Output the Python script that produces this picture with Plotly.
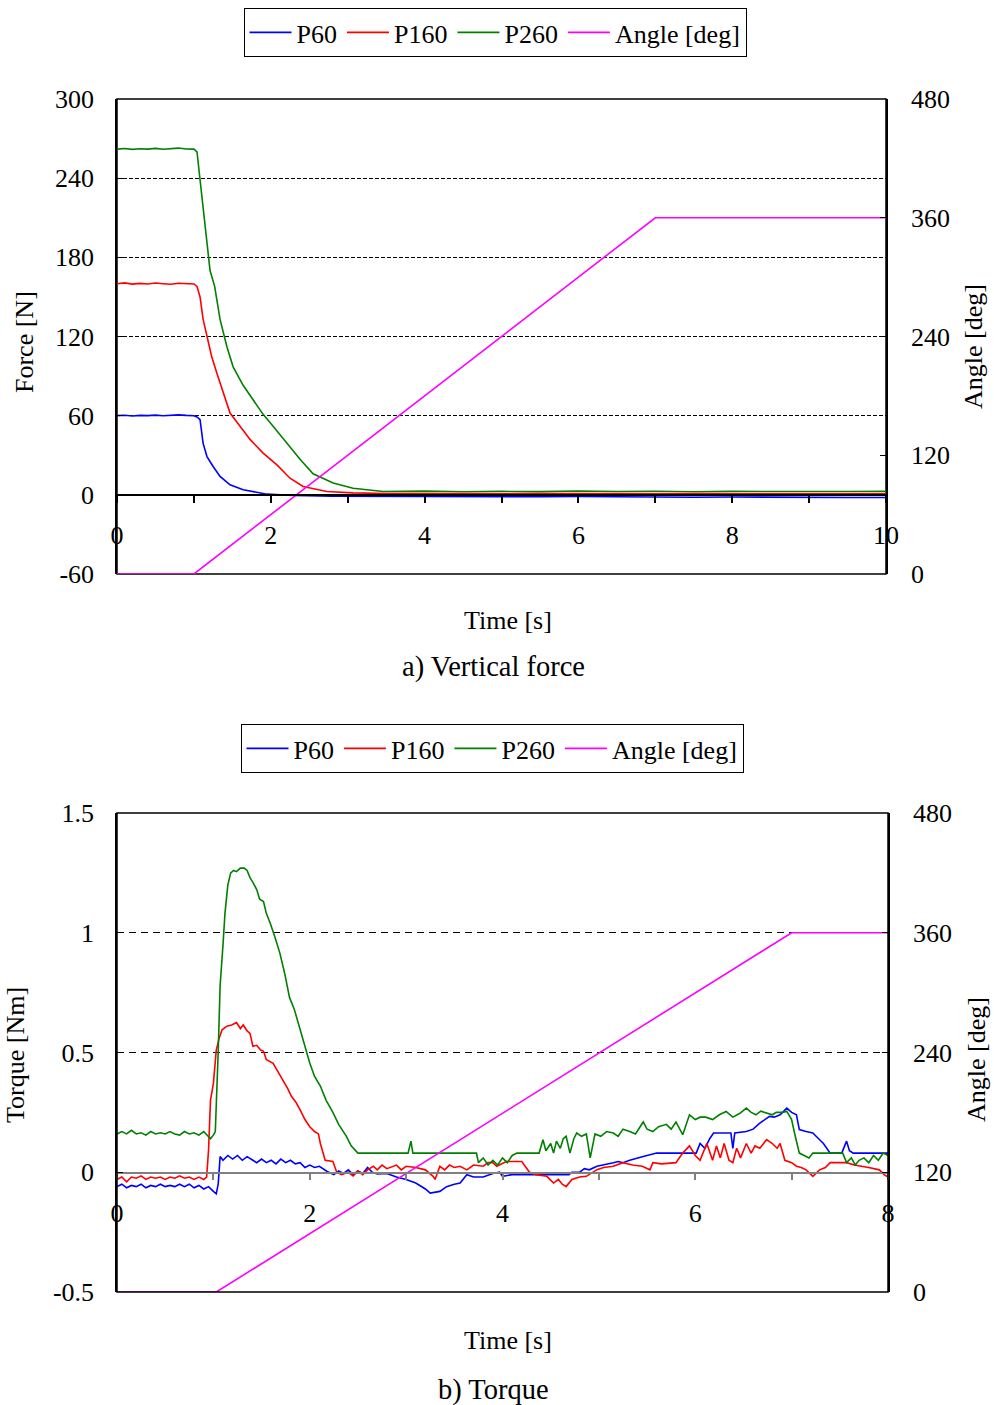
import plotly.graph_objects as go

# ---------------- a) Vertical force ----------------
t_p60_a = [0, 0.1, 0.2, 0.3, 0.4, 0.5, 0.6, 0.7, 0.8, 0.9, 1.0, 1.04, 1.08, 1.12, 1.17, 1.25, 1.34, 1.47,
           1.64, 1.95, 2.3, 2.8, 3.5, 4.0, 4.5, 5.0, 5.5, 6.0, 6.5, 7.0, 7.5, 8.0, 8.5, 9.0, 9.5, 10.0]
f_p60_a = [60, 60.3, 59.8, 60.2, 60, 60.4, 59.9, 60.1, 60.6, 60.2, 60, 59, 57, 39, 29, 21.5, 14, 7.6,
           3.8, 0.5, -0.5, -1.0, -1.2, -1.1, -1.4, -1.2, -1.5, -1.3, -1.6, -1.5, -1.8, -1.6, -1.9, -1.8, -2.0, -2.0]

t_p160_a = [0, 0.1, 0.2, 0.3, 0.4, 0.5, 0.6, 0.7, 0.8, 0.9, 1.0, 1.04, 1.08, 1.12, 1.17, 1.23, 1.30, 1.38,
            1.47, 1.60, 1.73, 1.90, 2.08, 2.25, 2.42, 2.73, 3.07, 3.5, 4.0, 4.5, 5.0, 5.5, 6.0, 6.5, 7.0,
            7.5, 8.0, 8.5, 9.0, 9.5, 10.0]
f_p160_a = [160, 160.6, 159.7, 160.3, 159.8, 160.5, 160, 159.6, 160.4, 160.1, 159.8, 158, 150, 133, 120, 105, 92, 77,
            62, 52, 42, 31.6, 22.7, 12.6, 6.3, 2.5, 1.5, 1.0, 0.8, 1.1, 0.7, 0.9, 0.8, 1.0, 0.6,
            0.8, 0.9, 0.7, 0.8, 0.6, 0.7]

t_p260_a = [0, 0.1, 0.2, 0.3, 0.4, 0.5, 0.6, 0.7, 0.8, 0.9, 1.0, 1.04, 1.08, 1.12, 1.17, 1.21, 1.27, 1.34,
            1.43, 1.51, 1.64, 1.77, 1.90, 2.03, 2.21, 2.38, 2.55, 2.81, 3.07, 3.46, 4.0, 4.5, 5.0, 5.5,
            6.0, 6.5, 7.0, 7.5, 8.0, 8.5, 9.0, 9.5, 10.0]
f_p260_a = [262, 262.5, 261.8, 262.3, 262, 262.6, 261.9, 262.2, 262.8, 262.1, 262, 260, 240, 218, 190, 170, 158, 133,
            112, 97, 83, 72, 61, 52, 39, 27, 16, 9, 5, 2.5, 2.8, 2.3, 2.6, 2.4,
            2.9, 2.5, 2.7, 2.3, 2.6, 2.4, 2.7, 2.5, 2.6]

t_angle_a = [0, 1.0, 7.0, 10.0]
angle_a = [0, 0, 360, 360]

force_ticks = [-60, 0, 60, 120, 180, 240, 300]
force_ticktext = ["-60", "0", "60", "120", "180", "240", "300"]
angle_ticks = [0, 120, 240, 360, 480]
angle_ticktext = ["0", "120", "240", "360", "480"]

# ---------------- b) Torque ----------------
t_p60_b = [0, 0.05, 0.1, 0.15, 0.2, 0.25, 0.3, 0.35, 0.4, 0.45, 0.5, 0.55, 0.6, 0.65, 0.7, 0.75, 0.8, 0.85,
           0.9, 0.95, 1.0, 1.03, 1.05, 1.07, 1.1, 1.15, 1.2, 1.25, 1.3, 1.35, 1.41, 1.45, 1.5, 1.55, 1.6,
           1.65, 1.7, 1.75, 1.8, 1.85, 1.9, 1.95, 2.0, 2.05, 2.1, 2.15, 2.18, 2.25, 2.3, 2.35, 2.4, 2.45,
           2.5, 2.55, 2.6, 2.65, 2.7, 2.8, 2.9, 3.0, 3.1, 3.2, 3.25, 3.35, 3.42, 3.5, 3.56, 3.63, 3.7, 3.8,
           3.9, 3.97, 4.0, 4.1, 4.69, 4.72, 4.8, 4.85, 4.9, 4.98, 5.05, 5.1, 5.15, 5.2, 5.25, 5.32, 5.4,
           5.46, 5.6, 6.01, 6.05, 6.1, 6.15, 6.19, 6.3, 6.37, 6.39, 6.41, 6.53, 6.6, 6.67, 6.72, 6.77, 6.82,
           6.88, 6.95, 7.0, 7.05, 7.08, 7.15, 7.22, 7.28, 7.33, 7.4, 7.52, 7.57, 7.6, 7.64, 8.0]
tq_p60_b = [-0.06, -0.05, -0.065, -0.055, -0.06, -0.05, -0.065, -0.055, -0.06, -0.05, -0.06, -0.055, -0.06, -0.05,
            -0.06, -0.05, -0.065, -0.055, -0.07, -0.06, -0.08, -0.09, -0.05, 0.066, 0.05, 0.07, 0.055, 0.07,
            0.05, 0.065, 0.05, 0.04, 0.055, 0.04, 0.05, 0.035, 0.055, 0.04, 0.05, 0.035, 0.04, 0.02, 0.03,
            0.02, 0.025, 0.01, 0.003, -0.01, 0.005, -0.005, 0.01, -0.01, 0.005, -0.005, 0.02, 0.0, -0.007,
            -0.005, -0.02, -0.03, -0.045, -0.07, -0.087, -0.08, -0.06, -0.05, -0.045, -0.01, -0.02, -0.02,
            -0.005, 0.0, -0.017, -0.01, -0.01, 0.0, 0.0, 0.015, 0.01, 0.025, 0.03, 0.035, 0.04, 0.045, 0.04,
            0.05, 0.06, 0.066, 0.08, 0.08, 0.12, 0.1, 0.14, 0.164, 0.164, 0.164, 0.1, 0.164, 0.17, 0.18,
            0.205, 0.22, 0.233, 0.23, 0.24, 0.268, 0.25, 0.24, 0.178, 0.17, 0.164, 0.14, 0.12, 0.08, 0.08,
            0.13, 0.09, 0.08, 0.08]

t_p160_b = [0, 0.05, 0.1, 0.15, 0.2, 0.25, 0.3, 0.35, 0.4, 0.45, 0.5, 0.55, 0.6, 0.65, 0.7, 0.75, 0.8, 0.85,
            0.9, 0.93, 0.95, 0.97, 1.0, 1.03, 1.06, 1.09, 1.14, 1.19, 1.24, 1.28, 1.31, 1.35, 1.38, 1.41,
            1.45, 1.49, 1.52, 1.55, 1.62, 1.67, 1.72, 1.77, 1.81, 1.86, 1.9, 1.95, 2.0, 2.05, 2.09, 2.11,
            2.16, 2.24, 2.28, 2.33, 2.4, 2.45, 2.5, 2.55, 2.6, 2.66, 2.7, 2.75, 2.8, 2.83, 2.9, 2.95, 3.0,
            3.1, 3.2, 3.28, 3.3, 3.35, 3.4, 3.45, 3.5, 3.56, 3.63, 3.7, 3.8, 3.85, 3.9, 3.94, 4.04, 4.2,
            4.28, 4.35, 4.46, 4.53, 4.58, 4.62, 4.66, 4.72, 4.8, 4.87, 4.98, 5.05, 5.15, 5.25, 5.35, 5.45,
            5.53, 5.56, 5.65, 5.8, 5.87, 5.94, 6.0, 6.05, 6.12, 6.18, 6.22, 6.26, 6.3, 6.35, 6.39, 6.43,
            6.47, 6.53, 6.58, 6.62, 6.67, 6.74, 6.8, 6.85, 6.88, 6.93, 7.0, 7.05, 7.1, 7.15, 7.22, 7.29,
            7.35, 7.4, 7.57, 7.65, 7.74, 7.8, 7.91, 7.96, 8.0]
tq_p160_b = [-0.03, -0.02, -0.04, -0.02, -0.025, -0.015, -0.03, -0.02, -0.025, -0.02, -0.03, -0.02, -0.025,
             -0.015, -0.025, -0.02, -0.03, -0.02, -0.03, -0.02, 0.094, 0.3, 0.37, 0.51, 0.56, 0.595, 0.61,
             0.615, 0.625, 0.6, 0.615, 0.59, 0.58, 0.526, 0.53, 0.51, 0.505, 0.47, 0.455, 0.42, 0.387, 0.35,
             0.317, 0.29, 0.26, 0.22, 0.19, 0.17, 0.16, 0.12, 0.05, 0.045, 0.0, -0.01, 0.0, -0.015, 0.005,
             -0.01, 0.01, 0.025, 0.01, 0.03, 0.015, 0.02, 0.03, 0.01, 0.025, 0.02, 0.01, -0.017, -0.03,
             0.025, 0.01, 0.03, 0.02, 0.025, 0.01, 0.03, 0.025, 0.04, 0.04, 0.025, 0.045, 0.045, 0.0, -0.01,
             -0.017, -0.045, -0.03, -0.05, -0.06, -0.03, -0.02, -0.017, 0.011, 0.02, 0.025, 0.04, 0.03,
             0.025, 0.01, 0.04, 0.035, 0.04, 0.08, 0.11, 0.07, 0.05, 0.12, 0.05, 0.11, 0.06, 0.12, 0.05,
             0.04, 0.1, 0.06, 0.12, 0.08, 0.11, 0.1, 0.136, 0.12, 0.1, 0.12, 0.05, 0.04, 0.025, 0.02, 0.01,
             -0.017, 0.01, 0.02, 0.04, 0.04, 0.03, 0.025, 0.02, 0.01, -0.01, -0.02]

t_p260_b = [0, 0.05, 0.1, 0.15, 0.2, 0.25, 0.3, 0.35, 0.4, 0.45, 0.5, 0.55, 0.6, 0.65, 0.7, 0.75, 0.8, 0.85,
            0.9, 0.95, 0.97, 1.0, 1.02, 1.05, 1.07, 1.1, 1.12, 1.15, 1.18, 1.21, 1.24, 1.28, 1.32, 1.35,
            1.38, 1.41, 1.45, 1.48, 1.52, 1.55, 1.59, 1.64, 1.69, 1.74, 1.79, 1.84, 1.9, 1.95, 2.0, 2.05,
            2.11, 2.17, 2.24, 2.3, 2.38, 2.43, 2.47, 2.5, 3.02, 3.05, 3.07, 3.73, 3.75, 3.8, 3.85, 3.9,
            3.95, 4.0, 4.05, 4.1, 4.15, 4.38, 4.42, 4.45, 4.5, 4.53, 4.56, 4.6, 4.63, 4.66, 4.7, 4.74,
            4.77, 4.82, 4.87, 4.91, 4.96, 5.02, 5.08, 5.15, 5.2, 5.25, 5.32, 5.38, 5.46, 5.5, 5.56, 5.62,
            5.7, 5.75, 5.8, 5.87, 5.94, 6.0, 6.05, 6.11, 6.18, 6.25, 6.32, 6.39, 6.46, 6.53, 6.58, 6.63,
            6.68, 6.73, 6.8, 6.84, 6.9, 6.95, 7.0, 7.03, 7.08, 7.13, 7.18, 7.22, 7.53, 7.57, 7.62, 7.66,
            7.7, 7.75, 7.8, 7.85, 7.9, 7.95, 8.0]
tq_p260_b = [0.16, 0.17, 0.16, 0.175, 0.16, 0.165, 0.155, 0.17, 0.16, 0.165, 0.16, 0.17, 0.16, 0.155, 0.17,
             0.16, 0.165, 0.155, 0.17, 0.15, 0.14, 0.155, 0.17, 0.5, 0.78, 0.95, 1.08, 1.2, 1.25, 1.26,
             1.255, 1.27, 1.27, 1.26, 1.23, 1.21, 1.18, 1.14, 1.13, 1.08, 1.04, 0.98, 0.915, 0.83, 0.73,
             0.68, 0.595, 0.52, 0.456, 0.4, 0.36, 0.3, 0.25, 0.2, 0.15, 0.11, 0.09, 0.08, 0.08, 0.13, 0.08,
             0.08, 0.04, 0.06, 0.03, 0.05, 0.03, 0.06, 0.04, 0.07, 0.08, 0.08, 0.136, 0.09, 0.12, 0.08,
             0.13, 0.1, 0.14, 0.15, 0.08, 0.14, 0.164, 0.15, 0.16, 0.06, 0.16, 0.15, 0.17, 0.164, 0.15,
             0.18, 0.17, 0.16, 0.21, 0.18, 0.17, 0.19, 0.2, 0.18, 0.21, 0.157, 0.24, 0.22, 0.23, 0.23, 0.22,
             0.24, 0.254, 0.23, 0.245, 0.268, 0.25, 0.24, 0.255, 0.25, 0.24, 0.25, 0.25, 0.254, 0.22, 0.164,
             0.08, 0.07, 0.06, 0.08, 0.08, 0.04, 0.06, 0.03, 0.05, 0.06, 0.04, 0.07, 0.05, 0.08, 0.07]

t_angle_b = [0, 1.03, 7.0, 8.0]
angle_b = [0, 0, 360, 360]

torque_ticks = [-0.5, 0, 0.5, 1, 1.5]
torque_ticktext = ["-0.5", "0", "0.5", "1", "1.5"]

series_names = ["P60", "P160", "P260", "Angle [deg]"]
colors = ["#0000ff", "#ff0000", "#008000", "#ff00ff"]

FONT = "Liberation Serif, Times New Roman, serif"
FS = 26
W, H = 994, 1405


def fx(px):
    return px / W


def fy(py):
    return 1 - py / H


fig = go.Figure()

data_a = [(t_p60_a, f_p60_a), (t_p160_a, f_p160_a), (t_p260_a, f_p260_a)]
for (tt, vv), name, col in zip(data_a, series_names[:3], colors[:3]):
    fig.add_trace(go.Scatter(x=tt, y=vv, name=name, mode="lines", line=dict(color=col, width=1.6),
                             xaxis="x", yaxis="y", legend="legend"))
fig.add_trace(go.Scatter(x=t_angle_a, y=angle_a, name=series_names[3], mode="lines",
                         line=dict(color=colors[3], width=1.6), xaxis="x", yaxis="y2", legend="legend"))

data_b = [(t_p60_b, tq_p60_b), (t_p160_b, tq_p160_b), (t_p260_b, tq_p260_b)]
for (tt, vv), name, col in zip(data_b, series_names[:3], colors[:3]):
    fig.add_trace(go.Scatter(x=tt, y=vv, name=name, mode="lines", line=dict(color=col, width=1.6),
                             xaxis="x2", yaxis="y3", legend="legend2"))
fig.add_trace(go.Scatter(x=t_angle_b, y=angle_b, name=series_names[3], mode="lines",
                         line=dict(color=colors[3], width=1.6), xaxis="x2", yaxis="y4", legend="legend2"))

tickfont = dict(family=FONT, size=FS, color="black")

xa_dom = [fx(117), fx(886)]
xb_dom = [fx(117), fx(888)]
ya_dom = [fy(574), fy(99)]
yb_dom = [fy(1292), fy(813)]

common_x = dict(showgrid=False, zeroline=False, showline=True, linewidth=1.5, ticks="outside",
                ticklen=7, tickwidth=1.5, tickfont=tickfont, anchor="free", ticklabelstandoff=10,
                automargin=False)
common_y = dict(zeroline=False, showline=True, linecolor="black", linewidth=1.5, ticks="inside",
                ticklen=6, tickwidth=1, tickcolor="black", tickfont=tickfont, automargin=False,
                tickmode="array")

legend_common = dict(orientation="h", xanchor="center", yanchor="top", itemwidth=42,
                     bordercolor="black", borderwidth=1, bgcolor="white",
                     font=dict(family=FONT, size=FS, color="black"))

fig.update_layout(
    width=W, height=H, margin=dict(l=0, r=0, t=0, b=0, autoexpand=False),
    paper_bgcolor="white", plot_bgcolor="white",
    font=dict(family=FONT, size=FS, color="black"),
    xaxis=dict(domain=xa_dom, range=[0, 10], dtick=2, tick0=0,
               position=fy(495), linecolor="black", tickcolor="black",
               minor=dict(dtick=1, ticks="outside", ticklen=7, tickcolor="black", tickwidth=1.5),
               **common_x),
    yaxis=dict(domain=ya_dom, range=[-60, 300], tickvals=force_ticks, ticktext=force_ticktext,
               anchor="x", side="left",
               showgrid=True, gridcolor="black", gridwidth=1, griddash="4px,2px",
               ticklabelstandoff=16, **common_y),
    yaxis2=dict(domain=ya_dom, range=[0, 480], tickvals=angle_ticks, ticktext=angle_ticktext,
                anchor="x", side="right",
                overlaying="y", showgrid=False, ticklabelstandoff=18, **common_y),
    xaxis2=dict(domain=xb_dom, range=[0, 8], dtick=2, tick0=0,
                position=fy(1172.6), linecolor="#808080", tickcolor="#808080",
                minor=dict(dtick=1, ticks="outside", ticklen=7, tickcolor="#808080", tickwidth=1.5),
                **common_x),
    yaxis3=dict(domain=yb_dom, range=[-0.5, 1.5], tickvals=torque_ticks, ticktext=torque_ticktext,
                anchor="x2", side="left",
                showgrid=True, gridcolor="black", gridwidth=1, griddash="7px,5px",
                ticklabelstandoff=16, **common_y),
    yaxis4=dict(domain=yb_dom, range=[0, 480], tickvals=angle_ticks, ticktext=angle_ticktext,
                anchor="x2", side="right",
                overlaying="y3", showgrid=False, ticklabelstandoff=18, **common_y),
    legend=dict(x=fx(495), y=fy(8), **legend_common),
    legend2=dict(x=fx(492), y=fy(724), **legend_common),
    showlegend=True,
)

# plot frames (top/bottom borders)
fig.add_shape(type="rect", xref="x domain", yref="y domain", x0=0, x1=1, y0=0, y1=1,
              line=dict(color="black", width=1.5), fillcolor="rgba(0,0,0,0)", layer="below")
fig.add_shape(type="rect", xref="x2 domain", yref="y3 domain", x0=0, x1=1, y0=0, y1=1,
              line=dict(color="black", width=1.5), fillcolor="rgba(0,0,0,0)", layer="above")

ann = [
    ("Force [N]", 25, 342, -90, FS),
    ("Angle [deg]", 974, 347, -90, FS),
    ("Time [s]", 508, 620, 0, FS),
    ("a) Vertical force", 493, 667, 0, 28.5),
    ("Torque [Nm]", 15, 1055, -90, FS),
    ("Angle [deg]", 976, 1060, -90, FS),
    ("Time [s]", 508, 1340, 0, FS),
    ("b) Torque", 493, 1390, 0, 28.5),
]
for text, x, y, ang, fs in ann:
    fig.add_annotation(text=text, x=fx(x), y=fy(y), xref="paper", yref="paper", showarrow=False,
                       textangle=ang, xanchor="center", yanchor="middle",
                       font=dict(family=FONT, size=fs, color="black"))

fig.write_html("out.html")
